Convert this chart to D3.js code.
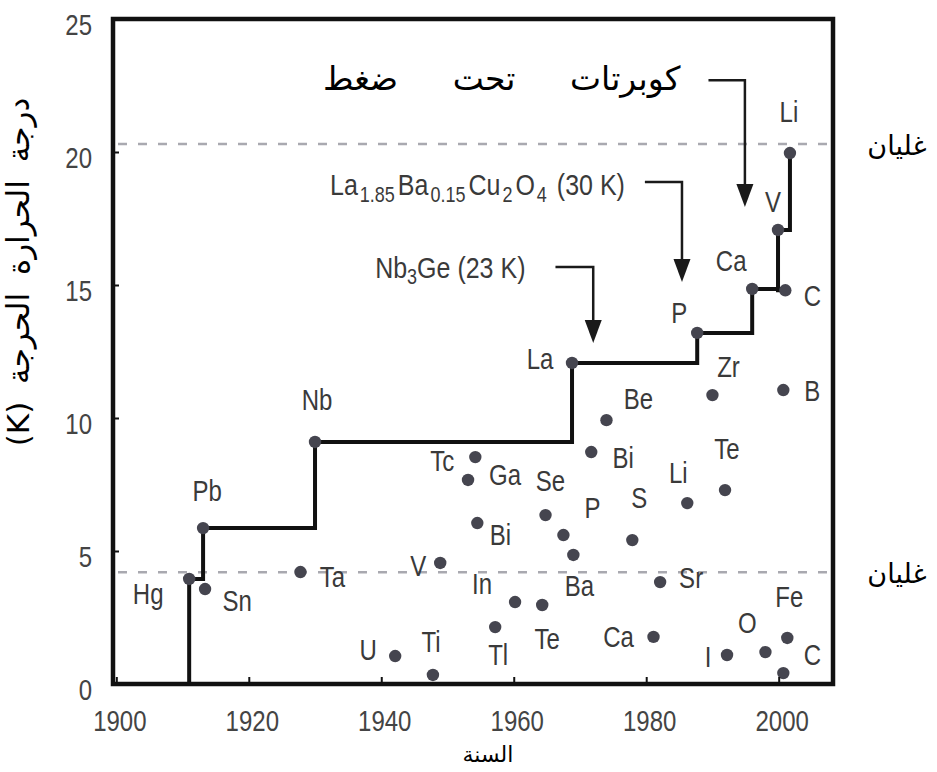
<!DOCTYPE html>
<html>
<head>
<meta charset="utf-8">
<script src="https://cdn.jsdelivr.net/npm/d3@7"></script>
<style>
  body { margin: 0; background: #fff; }
  svg { display: block; }
</style>
</head>
<body>
<svg id="chart"></svg>
<script>
// record holders, drawn as the stepped line (year, Tc in K)
const recordNames = ['Hg', 'Pb', 'Nb', 'La', 'P', 'Ca', 'C', 'V', 'Li'];
const recordYears = [1911.0, 1913.1, 1930.0, 1968.8, 1987.7, 1996.0, 2001.0, 1999.9, 2001.7];
const recordTc = [3.95, 5.86, 9.10, 12.07, 13.2, 14.85, 14.8, 17.07, 19.96];

// the other elements (dots only)
const otherNames = ['Sn', 'Ta', 'U', 'Ti', 'V', 'Tc', 'Ga', 'Bi', 'In', 'Tl', 'Te', 'Se', 'P', 'Ba',
  'Be', 'Bi', 'S', 'Li', 'Sr', 'Ca', 'I', 'O', 'Fe', 'C', 'Zr', 'B', 'Te'];
const otherYears = [1913.4, 1927.8, 1942.1, 1947.8, 1948.9, 1954.2, 1953.1, 1954.5, 1960.2, 1957.2,
  1964.3, 1964.8, 1967.5, 1969.0, 1974.0, 1971.7, 1977.9, 1986.2, 1982.1, 1981.1, 1992.2, 1998.0,
  2001.3, 2000.7, 1990.0, 2000.7, 1991.9];
const otherTc = [3.57, 4.21, 1.05, 0.34, 4.55, 8.53, 7.67, 6.05, 3.08, 2.14, 2.97, 6.35, 5.60, 4.85,
  9.92, 8.72, 5.41, 6.80, 3.83, 1.77, 1.09, 1.20, 1.73, 0.41, 10.86, 11.05, 7.29];

// boiling points of H2 and He (dashed lines)
const boilingTc = [20.3, 4.2];
const boilingLabel = 'غليان';

// arrows with their labels
const arrowLabels = ['Nb3Ge', 'La1.85Ba0.15Cu2O4', 'كوبرتات تحت ضغط'];
const arrowStartYear = [1966.3, 1979.8, 1989.4];
const arrowTurnYear = [1972.0, 1985.4, 1994.9];
const arrowStartTc = [15.68, 18.87, 22.7];
const arrowTipTc = [12.82, 15.11, 17.93];

const yearTicks = [1900, 1920, 1940, 1960, 1980, 2000];
const tcTicks = [0, 5, 10, 15, 20, 25];
const xTitle = 'السنة';
const yTitle = 'درجة الحرارة الحرجة (K)';

// label offsets in px (layout only)
const recordLabelOffset = [[-41, 15], [4, -37], [2, -42], [-32, -4], [-18, -20], [-21, -28], [27, 6], [-5, -28], [-1, -41]];
const otherLabelOffset = [[32, 12], [32, 5], [-27, -6], [-2, -33], [-22, 3], [-33, 4], [37, -5], [23, 12],
  [-33, -18], [3, 28], [5, 34], [5, -34], [29, -27], [6, 31], [32, -21], [32, 6], [7, -42], [-9, -30],
  [31, -4], [-35, 0], [-19, 2], [-18, -29], [2, -41], [29, -18], [16, -28], [29, 1], [2, -41]];

class TcHistoryChart {

  constructor(config) {
    this.config = {
      parent: config.parent,
      width: config.width || 937,
      height: config.height || 772,
      margin: config.margin || {top: 19, right: 104, bottom: 88, left: 113}
    };
    this.init();
  }

  init() {
    let self = this;
    let m = self.config.margin;

    self.svg = d3.select(self.config.parent)
      .attr('width', self.config.width)
      .attr('height', self.config.height);

    self.inner_width = self.config.width - m.left - m.right;
    self.inner_height = self.config.height - m.top - m.bottom;

    self.xScale = d3.scaleLinear()
      .domain([1899.5, 2008.2])
      .range([m.left, m.left + self.inner_width]);
    self.yScale = d3.scaleLinear()
      .domain([0, 25])
      .range([m.top + self.inner_height, m.top]);

    self.chart = self.svg.append('g');
    self.scanFont = "'Liberation Sans', Arial, sans-serif";
    self.arFont = "'DejaVu Sans', sans-serif";
  }

  // scanned-looking label: slightly stretched vertically
  stretch(x, y) {
    return `translate(${x},${y}) scale(1,1.2)`;
  }

  render() {
    let self = this;
    let x = self.xScale, y = self.yScale;
    let left = x.range()[0], right = x.range()[1];
    let bottom = y.range()[0], top = y.range()[1];

    // boiling lines
    self.chart.selectAll('.boil')
      .data(boilingTc)
      .join('line')
      .attr('x1', left + 5).attr('x2', right - 3)
      .attr('y1', d => y(d)).attr('y2', d => y(d))
      .attr('stroke', '#a9a9b0')
      .attr('stroke-width', 2.5)
      .attr('stroke-dasharray', '9,11');

    self.chart.selectAll('.boilLabel')
      .data(boilingTc)
      .join('text')
      .attr('x', 897).attr('y', d => y(d) + 11)
      .attr('text-anchor', 'middle')
      .attr('font-family', self.arFont)
      .attr('font-size', '27px')
      .attr('fill', '#000')
      .text(boilingLabel);

    // record staircase
    let rec = recordYears.map((v, i) => ({year: v, tc: recordTc[i], name: recordNames[i], off: recordLabelOffset[i]}));
    let stair = [{year: recordYears[0], tc: 0}].concat(rec);
    let line = d3.line()
      .x(d => x(d.year))
      .y(d => y(d.tc))
      .curve(d3.curveStepAfter);
    self.chart.append('path')
      .attr('d', line(stair))
      .attr('fill', 'none')
      .attr('stroke', '#111')
      .attr('stroke-width', 4);

    let others = otherYears.map((v, i) => ({year: v, tc: otherTc[i], name: otherNames[i], off: otherLabelOffset[i]}));
    let all = rec.concat(others);

    self.chart.selectAll('.dot')
      .data(all)
      .join('circle')
      .attr('cx', d => x(d.year))
      .attr('cy', d => y(d.tc))
      .attr('r', 6.2)
      .attr('fill', '#45454f');

    self.chart.selectAll('.elem')
      .data(all)
      .join('text')
      .attr('transform', d => self.stretch(x(d.year) + d.off[0], y(d.tc) + d.off[1]))
      .attr('dy', '0.35em')
      .attr('text-anchor', 'middle')
      .attr('font-family', self.scanFont)
      .attr('font-size', '24px')
      .attr('fill', '#3a3a3a')
      .text(d => d.name);

    // arrows
    arrowLabels.forEach(function(lbl, i) {
      let x0 = x(arrowStartYear[i]), x1 = x(arrowTurnYear[i]);
      let y0 = y(arrowStartTc[i]), y1 = y(arrowTipTc[i]);
      self.chart.append('path')
        .attr('d', `M${x0},${y0}H${x1}V${y1 - 18}`)
        .attr('fill', 'none')
        .attr('stroke', '#1a1a1a')
        .attr('stroke-width', 2.5);
      self.chart.append('path')
        .attr('d', `M${x1},${y1}L${x1 - 8.5},${y1 - 23}L${x1 + 8.5},${y1 - 23}Z`)
        .attr('fill', '#1a1a1a');
    });

    // Nb3Ge (23 K)
    let t1 = self.chart.append('text')
      .attr('transform', self.stretch(x(arrowStartYear[0]) - 30, y(arrowStartTc[0]) + 1))
      .attr('dy', '0.35em')
      .attr('text-anchor', 'end')
      .attr('font-family', self.scanFont)
      .attr('font-size', '25px')
      .attr('fill', '#3a3a3a');
    t1.append('tspan').text('Nb');
    t1.append('tspan').attr('font-size', '18px').attr('dy', 5).text('3');
    t1.append('tspan').attr('dy', -5).text('Ge (23 K)');

    // La1.85Ba0.15Cu2O4 (30 K)
    let t2 = self.chart.append('text')
      .attr('transform', self.stretch(x(arrowStartYear[1]) - 20, y(arrowStartTc[1]) + 2))
      .attr('dy', '0.35em')
      .attr('text-anchor', 'end')
      .attr('font-family', self.scanFont)
      .attr('font-size', '25px')
      .attr('fill', '#3a3a3a');
    [['La', 0], ['1.85', 1], ['Ba', 0], ['0.15', 1], ['Cu', 0], ['2', 1], ['O', 0], ['4', 1], [' (30 K)', 0]]
      .forEach(function(p, k, arr) {
        let prev = k > 0 ? arr[k - 1][1] : 0;
        let sp = t2.append('tspan').text(p[0]);
        if (p[1]) sp.attr('font-size', '18px').attr('dy', 6).attr('dx', 2);
        else if (prev) sp.attr('dy', -6).attr('dx', 3);
      });

    // cuprates under pressure
    self.chart.append('text')
      .attr('x', x(arrowStartYear[2]) - 28)
      .attr('y', y(arrowStartTc[2]) + 10)
      .attr('text-anchor', 'end')
      .attr('font-family', self.arFont)
      .attr('font-size', '33px')
      .attr('word-spacing', '44px')
      .attr('fill', '#000')
      .text(arrowLabels[2]);

    // axes with inward ticks
    let xAxis = d3.axisBottom(x).tickValues(yearTicks).tickFormat(d3.format('d')).tickSize(-7).tickPadding(0);
    let gx = self.chart.append('g')
      .attr('transform', `translate(0,${bottom})`)
      .call(xAxis);
    gx.select('.domain').remove();
    gx.selectAll('line').attr('stroke', '#111').attr('stroke-width', 2);
    gx.selectAll('text')
      .attr('y', null).attr('dy', '0.35em')
      .attr('transform', self.stretch(3, 37))
      .attr('font-family', self.scanFont)
      .attr('font-size', '24px')
      .attr('fill', '#444');

    let yAxis = d3.axisLeft(y).tickValues(tcTicks).tickSize(-6).tickPadding(0);
    let gy = self.chart.append('g')
      .attr('transform', `translate(${left},0)`)
      .call(yAxis);
    gy.select('.domain').remove();
    gy.selectAll('line').attr('stroke', '#111').attr('stroke-width', 2);
    gy.selectAll('text')
      .attr('x', null).attr('dy', '0.35em')
      .attr('transform', self.stretch(-21, 5))
      .attr('text-anchor', 'end')
      .attr('font-family', self.scanFont)
      .attr('font-size', '24px')
      .attr('fill', '#444');

    // frame
    self.chart.append('rect')
      .attr('x', left).attr('y', top)
      .attr('width', right - left).attr('height', bottom - top)
      .attr('fill', 'none')
      .attr('stroke', '#111')
      .attr('stroke-width', 4.5);

    // titles
    self.svg.append('text')
      .attr('x', 488).attr('y', 762)
      .attr('text-anchor', 'middle')
      .attr('font-family', self.arFont)
      .attr('font-size', '22px')
      .attr('fill', '#000')
      .text(xTitle);

    self.svg.append('text')
      .attr('transform', 'translate(29,272) rotate(-90)')
      .attr('direction', 'rtl')
      .attr('text-anchor', 'middle')
      .attr('font-family', self.arFont)
      .attr('font-size', '31px')
      .attr('word-spacing', '8px')
      .attr('fill', '#000')
      .text(yTitle);
  }
}

let chart = new TcHistoryChart({parent: '#chart'});
chart.render();
</script>
</body>
</html>
